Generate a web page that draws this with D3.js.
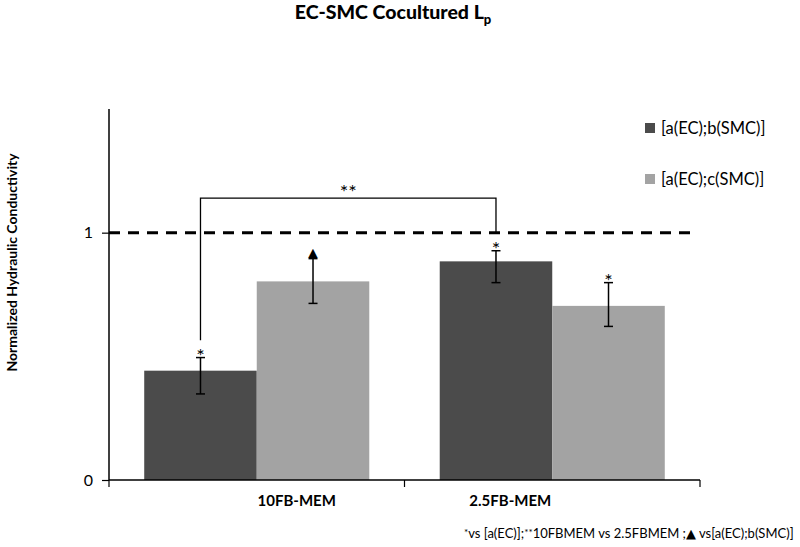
<!DOCTYPE html>
<html>
<head>
<meta charset="utf-8">
<script src="https://cdn.jsdelivr.net/npm/d3@7"></script>
<style>
  body { margin: 0; background: #fff; }
  svg { display: block; }
  text { font-family: Lato, "Open Sans", sans-serif; fill: #000; }
</style>
</head>
<body>
<svg id="chart" width="800" height="547"></svg>
<script>
// ---- data ----
const categories = ["10FB-MEM", "2.5FB-MEM"];
const series = ["[a(EC);b(SMC)]", "[a(EC);c(SMC)]"];
const seriesColors = ["#4b4b4b", "#a3a3a3"];
const valuesDark = [0.442, 0.884];
const valuesLight = [0.803, 0.704];
const errUpDark = [0.053, 0.043];
const errDownDark = [0.094, 0.086];
const errUpLight = [0.092, 0.094];
const errDownLight = [0.089, 0.083];
const marksDark = ["*", "*"];
const marksLight = ["▲", "*"];
const yTicks = [0, 1];
const referenceLine = 1;
const bracket = { y: 1.14, leftEnd: 0.565, rightEnd: 1.0, label: "**" };
const titleMain = "EC-SMC Cocultured L";
const titleSub = "p";
const yTitle = "Normalized Hydraulic Conductivity";
const footnote = ["*", "vs [a(EC)];", "**", "10FBMEM vs 2.5FBMEM ;", "▲", " vs[a(EC);b(SMC)]"];

(function () {
// ---- layout ----
const svg = d3.select("#chart");
const pLeft = 109, pRight = 700, pTop = 109, pBottom = 480;

const x = d3.scaleBand().domain(categories).range([pLeft, pRight]).paddingInner(0).paddingOuter(0);
const xs = d3.scaleBand().domain(series).range([0, x.bandwidth()]).paddingInner(0).paddingOuter(0.313);
const y = d3.scaleLinear().domain([0, 1.5]).range([pBottom, pTop]);

const rows = [];
categories.forEach((c, i) => {
  rows.push({ cat: c, s: series[0], color: seriesColors[0], v: valuesDark[i], up: errUpDark[i], dn: errDownDark[i], mark: marksDark[i] });
  rows.push({ cat: c, s: series[1], color: seriesColors[1], v: valuesLight[i], up: errUpLight[i], dn: errDownLight[i], mark: marksLight[i] });
});
const cx = d => x(d.cat) + xs(d.s) + xs.bandwidth() / 2;

// bars
svg.append("g").selectAll("rect").data(rows).join("rect")
  .attr("x", d => x(d.cat) + xs(d.s))
  .attr("width", xs.bandwidth())
  .attr("y", d => y(d.v))
  .attr("height", d => y(0) - y(d.v))
  .attr("fill", d => d.color);

// y axis
const yAxis = d3.axisLeft(y).tickValues(yTicks).tickFormat(d3.format("d")).tickSize(7).tickPadding(9);
const gy = svg.append("g").attr("transform", `translate(${pLeft},0)`).call(yAxis);
gy.select(".domain").attr("stroke", "#000").attr("stroke-width", 1.5).attr("d", `M0,${pTop}V${pBottom}`);
gy.selectAll(".tick line").attr("stroke", "#000").attr("stroke-width", 1.2);
gy.selectAll(".tick text").attr("font-size", 16).attr("font-family", "Lato, sans-serif").attr("fill", "#000");

// x axis (ticks at band boundaries)
const boundaries = [pLeft].concat(categories.map(c => x(c) + x.bandwidth()));
const gx = svg.append("g");
gx.append("line").attr("x1", pLeft).attr("x2", pRight).attr("y1", pBottom).attr("y2", pBottom)
  .attr("stroke", "#000").attr("stroke-width", 1.5);
gx.selectAll("line.tk").data(boundaries).join("line").attr("class", "tk")
  .attr("x1", d => d).attr("x2", d => d).attr("y1", pBottom).attr("y2", pBottom + 7)
  .attr("stroke", "#000").attr("stroke-width", 1.2);
// category labels (placed as in reference)
const labelOffsets = [40, -42];
gx.selectAll("text").data(categories).join("text")
  .attr("x", (d, i) => x(d) + x.bandwidth() / 2 + labelOffsets[i])
  .attr("y", 506)
  .attr("text-anchor", "middle")
  .attr("font-size", 15).attr("font-weight", "bold")
  .text(d => d);

// dashed reference line
svg.append("line")
  .attr("x1", pLeft).attr("x2", 694)
  .attr("y1", y(referenceLine)).attr("y2", y(referenceLine))
  .attr("stroke", "#000").attr("stroke-width", 3).attr("stroke-dasharray", "11,8");

// error bars
const eb = svg.append("g").attr("stroke", "#000").attr("stroke-width", 1.5);
eb.selectAll("line.v").data(rows).join("line").attr("class", "v")
  .attr("x1", cx).attr("x2", cx).attr("y1", d => y(d.v + d.up)).attr("y2", d => y(d.v - d.dn));
eb.selectAll("line.t").data(rows).join("line").attr("class", "t")
  .attr("x1", d => cx(d) - 4.5).attr("x2", d => cx(d) + 4.5).attr("y1", d => y(d.v + d.up)).attr("y2", d => y(d.v + d.up));
eb.selectAll("line.b").data(rows).join("line").attr("class", "b")
  .attr("x1", d => cx(d) - 4.5).attr("x2", d => cx(d) + 4.5).attr("y1", d => y(d.v - d.dn)).attr("y2", d => y(d.v - d.dn));

// significance marks
svg.append("g").selectAll("text").data(rows).join("text")
  .attr("x", cx)
  .attr("y", d => y(d.v + d.up) + (d.mark === "▲" ? -1 : 5))
  .attr("text-anchor", "middle")
  .attr("font-size", d => d.mark === "▲" ? 16 : 20)
  .attr("font-family", "DejaVu Sans, sans-serif")
  .text(d => d.mark);

// bracket
const bx1 = cx(rows[0]), bx2 = cx(rows[2]);
svg.append("path")
  .attr("d", `M${bx1},${y(bracket.leftEnd)}V${y(bracket.y)}H${bx2}V${y(bracket.rightEnd)}`)
  .attr("fill", "none").attr("stroke", "#000").attr("stroke-width", 1.3);
svg.append("text")
  .attr("x", (bx1 + bx2) / 2).attr("y", y(bracket.y) + 1)
  .attr("text-anchor", "middle").attr("font-size", 20)
  .attr("font-family", "DejaVu Sans, sans-serif")
  .text(bracket.label);

// title
const t = svg.append("text").attr("x", 393).attr("y", 19).attr("text-anchor", "middle")
  .attr("font-size", 19.5).attr("font-weight", "900");
t.append("tspan").text(titleMain);
t.append("tspan").attr("font-size", 13).attr("dy", 5).text(titleSub);

// y title
svg.append("text")
  .attr("transform", `translate(17,${(pTop + pBottom) / 2 - 32}) rotate(-90)`)
  .attr("text-anchor", "middle")
  .attr("font-size", 14).attr("font-weight", "bold")
  .text(yTitle);

// legend
const lg = svg.append("g");
series.forEach((s, i) => {
  const ly = 128 + i * 51;
  lg.append("rect").attr("x", 645).attr("y", ly - 5).attr("width", 10).attr("height", 10).attr("fill", seriesColors[i]);
  lg.append("text").attr("x", 661).attr("y", ly + 6).attr("font-size", 16.5).text(s);
});

// footnote
const fn = svg.append("text").attr("x", 464).attr("y", 538).attr("font-size", 13);
footnote.forEach((part, i) => {
  const ts = fn.append("tspan").text(part);
  if (part === "*" || part === "**") ts.attr("font-size", 10).attr("dy", -2);
  if (i === 1 || i === 3) ts.attr("dy", 2);
  if (part === "▲") ts.attr("font-family", "DejaVu Sans, sans-serif").attr("font-size", 13);
});
})();
</script>
</body>
</html>
